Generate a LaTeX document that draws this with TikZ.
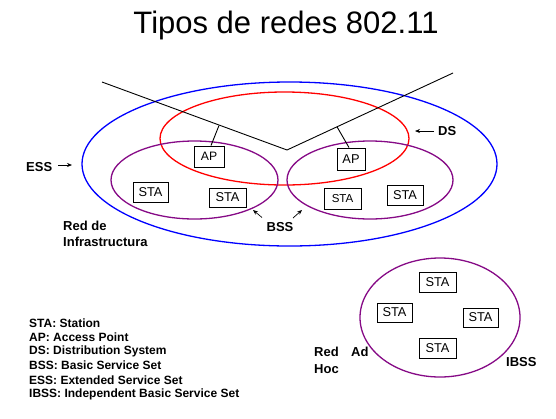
\documentclass[tikz,border=0pt]{standalone}
\usepackage{fontspec}
\setmainfont{Liberation Sans}
\usetikzlibrary{arrows.meta}
\definecolor{bsspurple}{RGB}{134,10,134}
\begin{document}
\begin{tikzpicture}[x=1pt,y=-1pt,
  stabox/.style={draw,line width=0.9pt,minimum width=36pt,minimum height=20pt,inner sep=0pt,font=\fontsize{12.8}{14}\selectfont},
  apbox/.style={stabox,minimum width=30pt,minimum height=21pt},
  lbl/.style={font=\fontsize{13}{15}\selectfont\bfseries,inner sep=0pt},
  legend/.style={font=\fontsize{12}{14.2}\selectfont\bfseries,inner sep=0pt,anchor=west},
  ptr/.style={-{Stealth[length=5pt,width=4pt]},line width=0.7pt},
  cell/.style={line width=1.3pt}]
\useasboundingbox (0,0) rectangle (556,418);

% title
\node[font=\fontsize{31}{35}\selectfont] (title) at (286,25) {Tipos de redes 802.11};

% extended service set, distribution system, basic service sets
\draw[cell,blue] (289.5,164) ellipse [x radius=207.5, y radius=82];
\draw[cell,red] (284.5,138.5) ellipse [x radius=124.5, y radius=46.5];
\draw[cell,bsspurple] (194.5,180) ellipse [x radius=83.5, y radius=39];
\draw[cell,bsspurple] (370,180) ellipse [x radius=83, y radius=39];

% backbone wire
\coordinate (wA) at (102,82);
\coordinate (wV) at (287,150);
\coordinate (wB) at (453,73);
\draw[line width=0.9pt] (wA) -- (wV) -- (wB);
\coordinate (tapL) at (219,125.5);
\coordinate (tapR) at (337,126.8);

% access points and stations
\node[apbox,font=\fontsize{12.2}{14}\selectfont] (apL) at (209,156.5) {AP};
\node[apbox,minimum width=28pt,minimum height=22pt] (apR) at (351,159) {AP};
\draw[line width=0.9pt] (tapL) -- ([xshift=2pt]apL.north);
\draw[line width=0.9pt] (tapR) -- ([xshift=-2pt]apR.north);

\node[stabox,minimum width=35pt] (s1) at (150.5,192) {STA};
\node[stabox,minimum width=37pt,minimum height=19pt] (s2) at (227.5,197.5) {STA};
\node[stabox,minimum width=37pt,minimum height=21pt,font=\fontsize{11.5}{13}\selectfont] (s3) at (342.5,198.5) {STA};
\node[stabox] (s4) at (405,195.5) {STA};

% labels with pointers
\node[lbl,anchor=west] (ess) at (26,167) {ESS};
\coordinate (essTip) at (72,165);
\draw[ptr] ([xshift=6pt]ess.east |- essTip) -- (essTip);

\node[lbl,anchor=west] (ds) at (438,131) {DS};
\coordinate (dsTip) at (415,131);
\draw[ptr] ([xshift=-4pt]ds.west) -- (dsTip);

\node[lbl] (bss) at (280,227) {BSS};
\coordinate (bssTipL) at (253,210);
\coordinate (bssTipR) at (302,210);
\draw[ptr] (262,217.5) -- (bssTipL);
\draw[ptr] (293,218) -- (bssTipR);

\node[lbl,anchor=west] (infra1) at (63,226) {Red de};
\node[lbl,anchor=west] (infra2) at (63,242) {Infrastructura};

% independent basic service set
\draw[cell,bsspurple] (440,317.5) ellipse [x radius=80, y radius=59.5];
\node[stabox,minimum width=37pt] (i1) at (437.5,282) {STA};
\node[stabox,minimum width=35pt,minimum height=19pt] (i2) at (394.5,312.5) {STA};
\node[stabox,minimum width=35pt,minimum height=19pt] (i3) at (480.5,317.5) {STA};
\node[stabox,minimum width=37pt] (i4) at (437.5,348) {STA};

\node[lbl,anchor=west] (rah1) at (314,352) {Red};
\node[lbl,anchor=west] (rah2) at (351,352) {Ad};
\node[lbl,anchor=west] (rah3) at (314,369) {Hoc};
\node[lbl,anchor=west] (ibss) at (506,362) {IBSS};

% legend
\node[legend] (l1) at (29,323) {STA: Station};
\node[legend] (l2) at (29,337.2) {AP: Access Point};
\node[legend] (l3) at (29,351.4) {DS: Distribution System};
\node[legend] (l4) at (29,365.6) {BSS: Basic Service Set};
\node[legend] (l5) at (29,379.8) {ESS: Extended Service Set};
\node[legend] (l6) at (29,394) {IBSS: Independent Basic Service Set};
\end{tikzpicture}
\end{document}
